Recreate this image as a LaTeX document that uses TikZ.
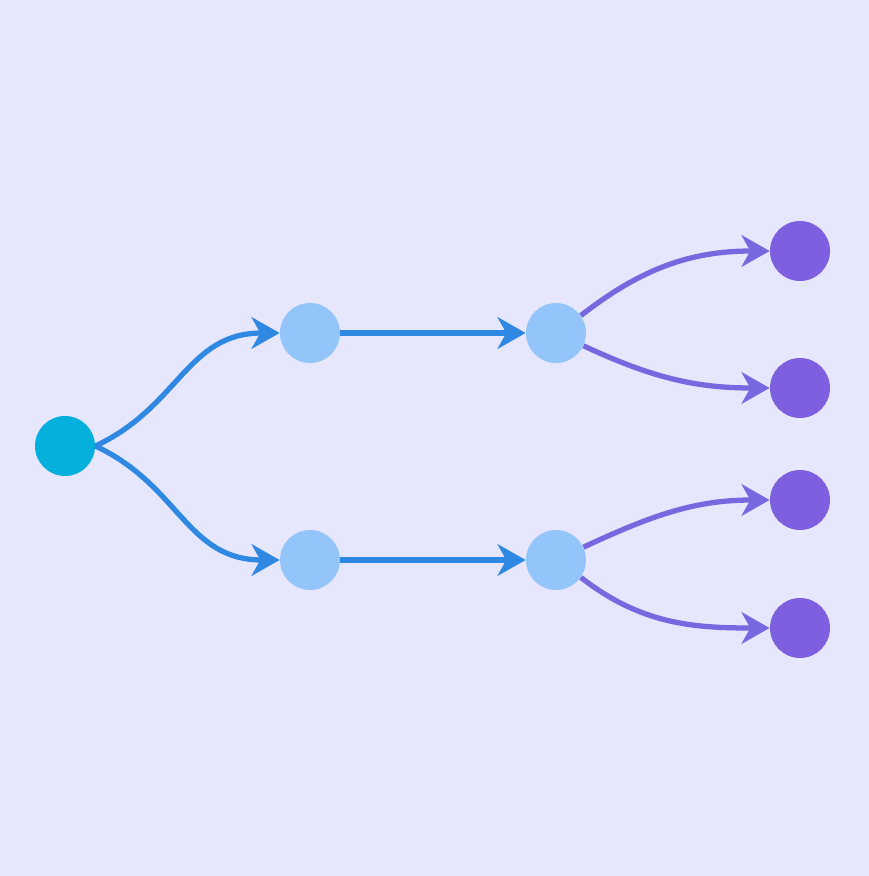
\documentclass[tikz,border=0pt]{standalone}
\usetikzlibrary{arrows.meta}
\definecolor{bgcol}{HTML}{E6E6FC}
\definecolor{rootcol}{HTML}{06B0DC}
\definecolor{midcol}{HTML}{93C5FB}
\definecolor{leafcol}{HTML}{7E5FE0}
\definecolor{bluearr}{HTML}{2F88E2}
\definecolor{purplearr}{HTML}{7768E0}
\tikzset{
  dot/.style={circle,inner sep=0pt,minimum size=1.2cm},
  rootdot/.style={dot,fill=rootcol},
  middot/.style={dot,fill=midcol},
  leafdot/.style={dot,fill=leafcol},
  blueedge/.style={draw=bluearr,line width=3pt,-{Stealth[length=16pt,width=18pt,inset=5pt]}},
  purpleedge/.style={draw=purplearr,line width=3pt,-{Stealth[length=16pt,width=18pt,inset=5pt]}}
}
\begin{document}
\begin{tikzpicture}[x=0.02cm,y=0.02cm]
\fill[bgcol] (0,0) rectangle (869,876);
\node[rootdot] (r) at (65,430) {};
\node[middot] (a1) at (310,543) {};
\node[middot] (a2) at (310,316) {};
\node[middot] (b1) at (556,543) {};
\node[middot] (b2) at (556,316) {};
\node[leafdot] (c1) at (800,625) {};
\node[leafdot] (c2) at (800,488) {};
\node[leafdot] (c3) at (800,376) {};
\node[leafdot] (c4) at (800,248) {};
\draw[blueedge] (r.east) to[out=25,in=180,looseness=1.1] (a1);
\draw[blueedge] (r.east) to[out=-25,in=180,looseness=1.1] (a2);
\draw[blueedge] (a1) -- (b1);
\draw[blueedge] (a2) -- (b2);
\draw[purpleedge] (b1.35) to[out=38,in=180] (c1);
\draw[purpleedge] (b1.-25) to[out=-25,in=180] (c2);
\draw[purpleedge] (b2.25) to[out=25,in=180] (c3);
\draw[purpleedge] (b2.-35) to[out=-38,in=180] (c4);
\end{tikzpicture}
\end{document}
